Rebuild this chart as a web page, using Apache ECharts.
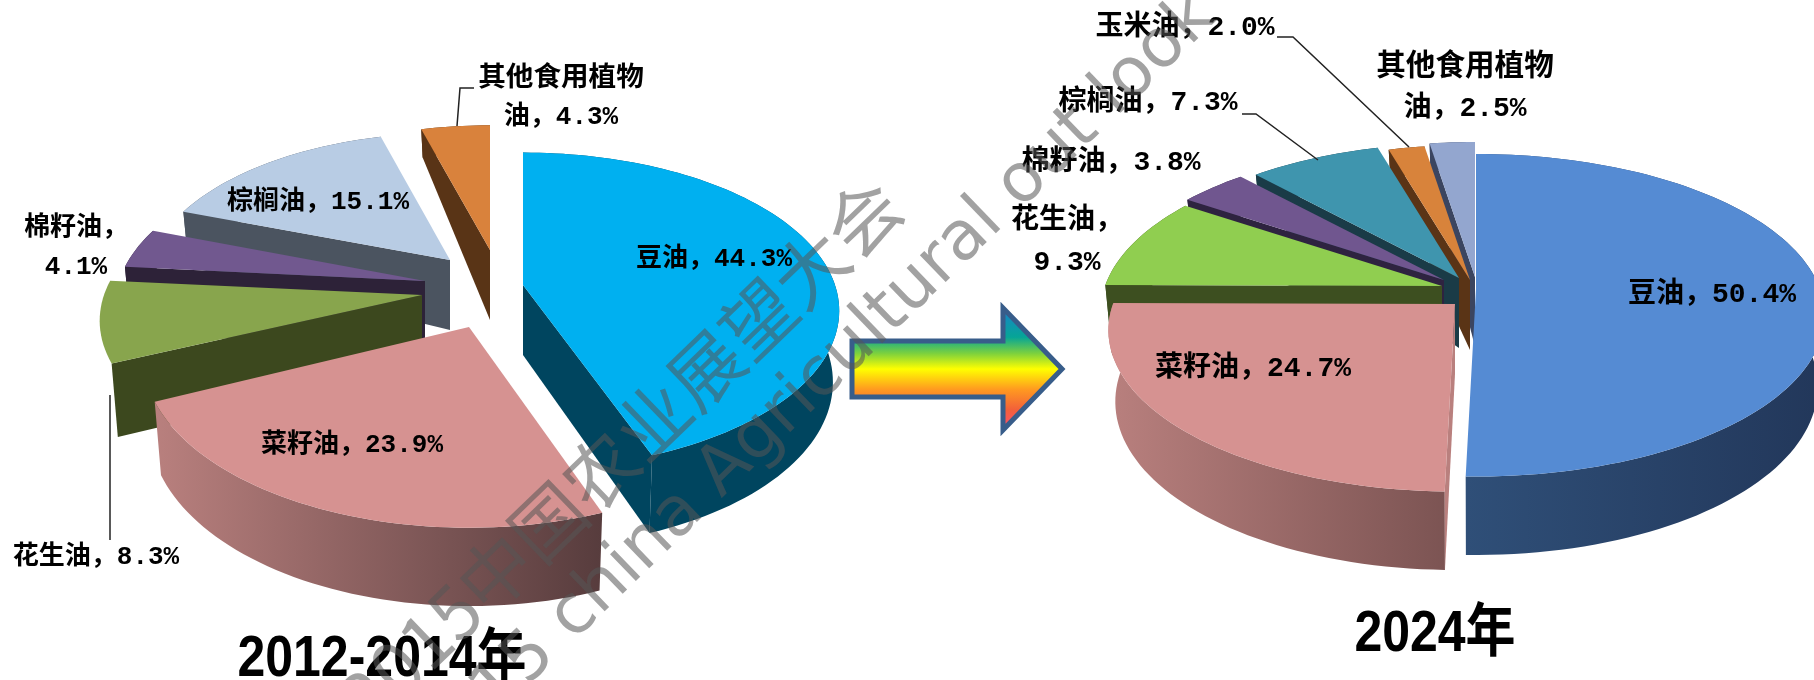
<!DOCTYPE html>
<html><head><meta charset="utf-8">
<style>html,body{margin:0;padding:0;background:#fff;overflow:hidden}#c{width:1814px;height:680px}</style>
<script src="https://cdn.jsdelivr.net/npm/echarts@6/dist/echarts.min.js"></script>
</head><body><div id="c"></div>
<script>
// ---- data ----
const names2014 = ['豆油','菜籽油','花生油','棉籽油','棕榈油','其他食用植物油'];
const values2014 = [44.3,23.9,8.3,4.1,15.1,4.3];
const names2024 = ['豆油','菜籽油','花生油','棉籽油','棕榈油','玉米油','其他食用植物油'];
const values2024 = [50.4,24.7,9.3,3.8,7.3,2.0,2.5];
const title2014 = '2012-2014年';
const title2024 = '2024年';
const watermarkCn = '2015中国农业展望大会';
const watermarkEn = '2015 china Agricultural out look';

// ---- look & layout ----
const K = 0.163;
const FONT = "'Liberation Mono','Noto Sans CJK SC',sans-serif";
const left = {
  ry:154, depth:70, fontSize:26,
  slices:[
    {apex:[523,285],R:312,order:5,top:'#00b0f0',wall:'#00455f',label:[714,259],lines:['豆油，44.3%']},
    {apex:[469,327],R:322,ry:168,order:6,top:'#d69291',wall:['#b9807e','#573c3d'],label:[352,445],lines:['菜籽油，23.9%']},
    {apex:[422,295],R:318,order:4,top:'#88a54d',wall:'#3c481e',noArc:true,label:[96,557],lines:['花生油，8.3%'],leader:[[110,395],[110,540]]},
    {apex:[425,281],R:306,order:3,top:'#71588f',wall:'#2d2238',label:[76,248],lines:['棉籽油，','4.1%']},
    {apex:[450,260],R:300,ry:148,order:2,top:'#b8cce4',wall:'#4b5460',label:[318,202],lines:['棕榈油，15.1%']},
    {apex:[490,250],R:298,ry:145,order:1,top:'#d9823c',wall:'#593416',label:[561,98],firstFs:27.6,lines:['其他食用植物','油，4.3%'],leader:[[457,126],[460,88],[474,88]]}
  ]
};
const right = {
  ry:157, depth:70, fontSize:28,
  slices:[
    {apex:[1476,289],R:344,order:6,top:'#558bd3',wall:['#2f4f78','#22375a'],label:[1712,295],lines:['豆油，50.4%']},
    {apex:[1455,304],R:342,order:7,top:'#d69291',wall:['#b9807e','#7c5453'],label:[1253,369],lines:['菜籽油，24.7%']},
    {apex:[1442,286],R:337,order:5,top:'#90ce50',wall:'#3d4f20',label:[1067,242],lines:['花生油，','9.3%']},
    {apex:[1444,280],R:337,order:4,top:'#70568f',wall:'#2e2340',label:[1111,163],lines:['棉籽油，3.8%']},
    {apex:[1459,278],R:337,order:3,top:'#3f95ae',wall:'#1a3b47',label:[1148,103],lines:['棕榈油，7.3%'],leader:[[1242,114],[1256,114],[1318,160]]},
    {apex:[1470,280],R:337,order:2,top:'#d8833b',wall:'#5a3416',label:[1185,28],lines:['玉米油，2.0%'],leader:[[1277,37],[1293,37],[1409,147]]},
    {apex:[1475,277],R:337,order:1,top:'#93a6cf',wall:'#3b4560',label:[1465,88],firstFs:29.6,lines:['其他食用植物','油，2.5%']}
  ]
};

// perspective projection of a rim point, angle in radians clockwise from top
function rim(a, s, ry, ang){
  const u = Math.sin(ang), v = -Math.cos(ang), w = 1/(1 - K*v);
  return {x:a[0]+s*u*w, y:a[1]+ry*v*w, v};
}
function drop(v, depth){ return depth*(v<0 ? 1+0.62*v : 1+0.12*v); }

function makeRender(values, cfg){
  const total = values.reduce((p,c)=>p+c,0);
  return function(params, api){
    const i = params.dataIndex, val = api.value(0);
    let before = 0; for(let j=0;j<i;j++) before += values[j];
    const a0 = before/total*2*Math.PI, a1 = a0 + val/total*2*Math.PI;
    const sl = cfg.slices[i], z = sl.order*10, D = cfg.depth;
    const ry = sl.ry || cfg.ry;
    const steps = Math.max(6, Math.ceil((a1-a0)/0.03));
    const arc = [];
    for(let n=0;n<=steps;n++){ arc.push(rim(sl.apex, sl.R, ry, a0+(a1-a0)*n/steps)); }
    const topPts = [sl.apex].concat(arc.map(p=>[p.x,p.y]));
    const children = [];
    const solid = Array.isArray(sl.wall) ? sl.wall[0] : sl.wall;
    const apexLow = [sl.apex[0], sl.apex[1]+D];
    // the lower rim converges slightly toward the apex
    const low = (p)=>[sl.apex[0]+(p.x-sl.apex[0])*0.98, p.y+drop(p.v,D)];
    const face = (p)=>({type:'polygon',z2:z+2,shape:{points:[sl.apex,[p.x,p.y],low(p),apexLow]},style:{fill:solid}});
    // cut faces turned toward the viewer
    if(-Math.cos(a0-Math.PI/2) > 0.02) children.push(face(arc[0]));
    if(-Math.cos(a1+Math.PI/2) > 0.02) children.push(face(arc[arc.length-1]));
    // outer wall
    if(!sl.noArc){
      const wallPts = arc.map(p=>[p.x,p.y]).concat(arc.slice().reverse().map(low));
      const wallFill = Array.isArray(sl.wall)
        ? {type:'linear',x:0,y:0,x2:1,y2:0,colorStops:[{offset:0,color:sl.wall[0]},{offset:1,color:sl.wall[1]}]}
        : sl.wall;
      children.push({type:'polygon',z2:z+1,shape:{points:wallPts},style:{fill:wallFill}});
    }
    children.push({type:'polygon',z2:z+3,shape:{points:topPts},style:{fill:sl.top}});
    if(sl.leader){
      children.push({type:'polyline',z2:900,shape:{points:sl.leader},style:{fill:'none',stroke:'#222',lineWidth:1.5}});
    }
    const fs = cfg.fontSize, lh = fs*1.48;
    sl.lines.forEach((t,n)=>{
      const size = (n===0 && sl.firstFs) ? sl.firstFs : fs;
      children.push({type:'text',z2:950,x:sl.label[0],y:sl.label[1]+(n-(sl.lines.length-1)/2)*lh,
        style:{text:t,fill:'#000',font:`bold ${size}px ${FONT}`,textAlign:'center',textVerticalAlign:'middle',align:'center',verticalAlign:'middle'}});
    });
    return {type:'group',children};
  };
}
function pieSeries(values, names, cfg){
  return {type:'custom',coordinateSystem:'none',silent:true,animation:false,clip:false,
    renderItem:makeRender(values,cfg),
    data:values.map((v,i)=>({name:names[i],value:[v]}))};
}

const titleFont = "bold 50px 'Liberation Sans','Noto Sans CJK SC',sans-serif";
const WM = 44*Math.PI/180;
const chart = echarts.init(document.getElementById('c'),null,{renderer:'canvas'});
chart.setOption({
  animation:false,
  backgroundColor:'#fff',
  series:[pieSeries(values2014,names2014,left),pieSeries(values2024,names2024,right)],
  graphic:[
    {type:'polygon',z:5,silent:true,
      shape:{points:[[852,341],[1003,341],[1003,308],[1062,369],[1003,430],[1003,397],[852,397]]},
      style:{stroke:'#385d8a',lineWidth:5,lineJoin:'miter',
        fill:{type:'linear',x:0,y:0,x2:0,y2:1,colorStops:[
          {offset:0,color:'#1a7fd0'},{offset:.25,color:'#06a596'},{offset:.38,color:'#7fd23c'},
          {offset:.5,color:'#ffff00'},{offset:.66,color:'#ff9a20'},{offset:.82,color:'#f2603a'},{offset:1,color:'#ff4d78'}]}}},
    {type:'text',z:6,silent:true,x:382,y:660,scaleY:1.15,
      style:{text:title2014,fill:'#000',font:titleFont,textAlign:'center',textVerticalAlign:'middle',align:'center',verticalAlign:'middle'}},
    {type:'text',z:6,silent:true,x:1435,y:635,scaleY:1.15,
      style:{text:title2024,fill:'#000',font:titleFont,textAlign:'center',textVerticalAlign:'middle',align:'center',verticalAlign:'middle'}},
    {type:'text',z:10,silent:true,x:889,y:192,rotation:WM,
      style:{text:watermarkCn,fill:'rgba(85,85,85,.55)',font:"73px 'Noto Sans CJK SC',sans-serif",textAlign:'right',textVerticalAlign:'middle',align:'right',verticalAlign:'middle'}},
    {type:'text',z:10,silent:true,x:421,y:764,rotation:WM,
      style:{text:watermarkEn,fill:'rgba(85,85,85,.55)',font:"68px 'DejaVu Sans',sans-serif",textAlign:'left',textVerticalAlign:'middle',align:'left',verticalAlign:'middle'}}
  ]
});
</script></body></html>
